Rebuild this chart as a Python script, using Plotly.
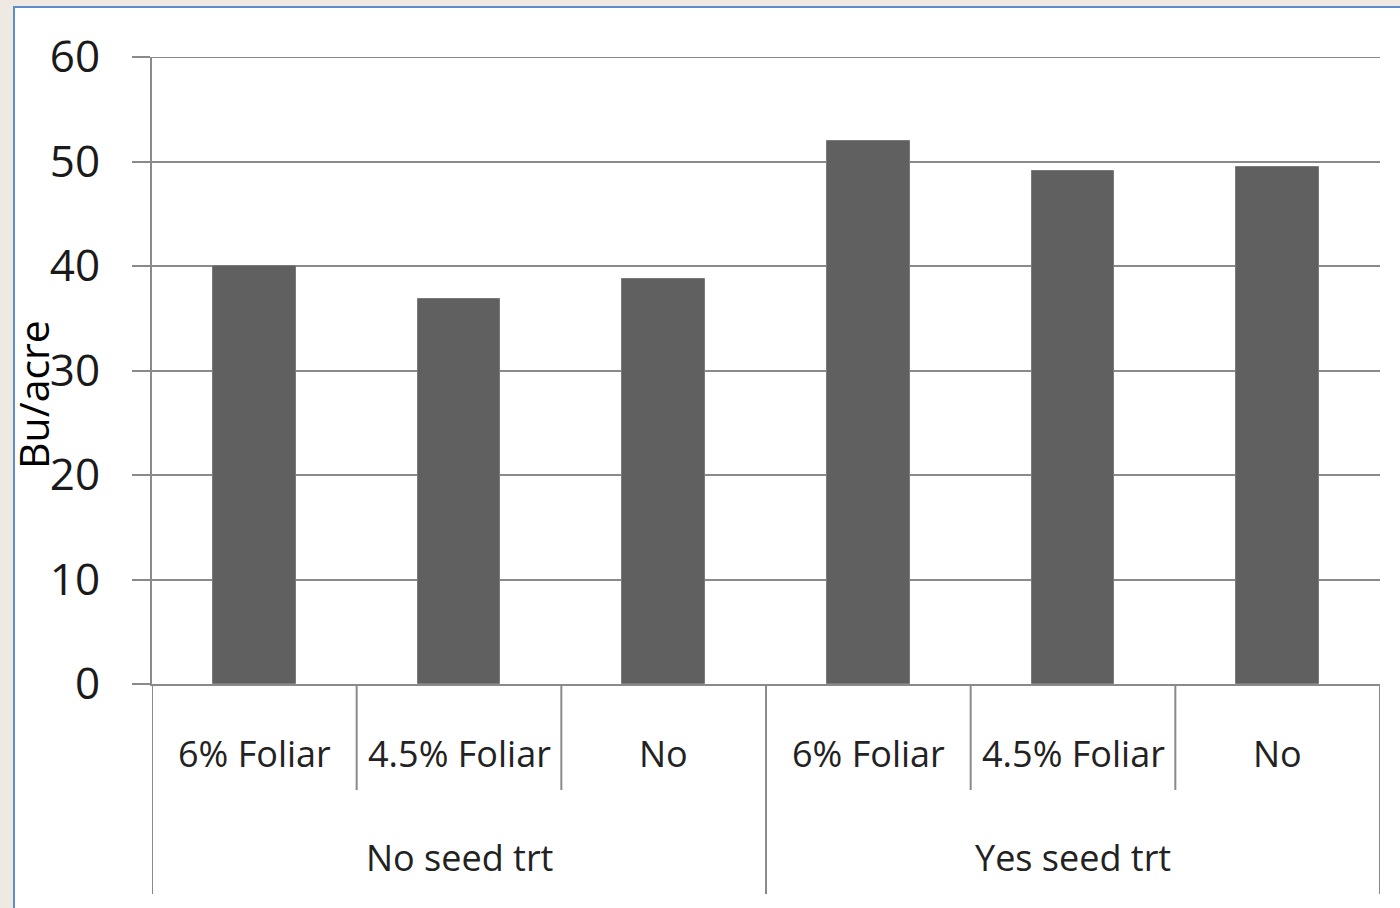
import plotly.graph_objects as go

# Yield by seed treatment and foliar application
groups = ["No seed trt", "Yes seed trt"]
foliar = ["6% Foliar", "4.5% Foliar", "No"]
inner_labels = foliar * len(groups)
yield_bu = [40.0, 36.8, 38.8, 52.0, 49.1, 49.5]
y_ticks = [0, 10, 20, 30, 40, 50, 60]

W, H = 1400, 908
L, R, T, B = 152, 1380, 57, 684  # plot area in pixels

def px_x(px):
    return (px - L) / (R - L)

def px_y(py):
    return (B - py) / (B - T)

FONT = "Open Sans"
GRID = "#8a8a8a"
n = len(inner_labels)
xs = list(range(n))

fig = go.Figure(go.Bar(
    x=xs, y=yield_bu, width=0.405,
    marker=dict(color="#606060", line=dict(color="#7a7a7a", width=1)),
    hoverinfo="y",
))

shapes = []
# white card with blue border over beige page
shapes.append(dict(type="rect", xref="paper", yref="paper", layer="below",
                   x0=px_x(14), x1=px_x(W + 5), y0=px_y(H + 5), y1=px_y(7),
                   fillcolor="white", line=dict(color="#5b8ccb", width=2)))
# top gridline at the axis maximum
shapes.append(dict(type="line", xref="paper", yref="y", x0=0, x1=1,
                   y0=y_ticks[-1], y1=y_ticks[-1], line=dict(color=GRID, width=2)))

# separators between inner categories
per = len(foliar)
for i in range(1, n):
    if i % per == 0:
        continue
    shapes.append(dict(type="line", xref="x", yref="paper", x0=i - 0.5, x1=i - 0.5,
                       y0=0, y1=px_y(790), line=dict(color=GRID, width=2)))
# separators between outer groups (including both ends)
for g in range(len(groups) + 1):
    xv = g * per - 0.5
    shapes.append(dict(type="line", xref="x", yref="paper", x0=xv, x1=xv,
                       y0=0, y1=px_y(894), line=dict(color=GRID, width=2)))

annotations = []
for i, lab in enumerate(inner_labels):
    annotations.append(dict(x=i, y=px_y(753), xref="x", yref="paper", text=lab,
                            showarrow=False, font=dict(family=FONT, size=36, color="#222"),
                            xanchor="center", yanchor="middle"))
for g, lab in enumerate(groups):
    annotations.append(dict(x=g * per + (per - 1) / 2, y=px_y(858), xref="x", yref="paper",
                            text=lab, showarrow=False,
                            font=dict(family=FONT, size=36, color="#222"),
                            xanchor="center", yanchor="middle"))
annotations.append(dict(x=px_x(33), y=px_y(395), xref="paper", yref="paper", text="Bu/acre",
                        textangle=-90, showarrow=False,
                        font=dict(family=FONT, size=41, color="black"),
                        xanchor="center", yanchor="middle"))

fig.update_layout(
    width=W, height=H,
    margin=dict(l=L, r=W - R, t=T, b=H - B, pad=0),
    paper_bgcolor="#eeeae1",
    plot_bgcolor="white",
    showlegend=False,
    shapes=shapes,
    annotations=annotations,
    bargap=0,
)
fig.update_xaxes(range=[-0.5, n - 0.5], showticklabels=False, ticks="",
                 showgrid=False, zeroline=False, showline=True,
                 linecolor=GRID, linewidth=2)
fig.update_yaxes(range=[0, 60], tickvals=y_ticks, showgrid=True, gridcolor=GRID,
                 gridwidth=2, zeroline=False, showline=True, linecolor=GRID,
                 linewidth=2, ticks="outside", ticklen=18, tickcolor=GRID,
                 tickwidth=2, ticklabelstandoff=23,
                 tickfont=dict(family=FONT, size=44, color="#1a1a1a"))

fig.write_html("out.html")
